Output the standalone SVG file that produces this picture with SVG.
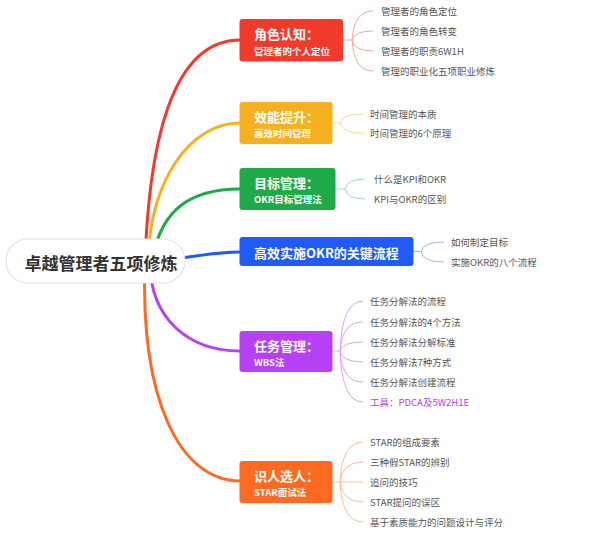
<svg xmlns="http://www.w3.org/2000/svg" width="600" height="533" viewBox="0 0 600 533">
<style>
text{font-family:"Noto Sans CJK SC","Noto Sans",sans-serif;dominant-baseline:central}
.main{fill:none;stroke-width:3;stroke-linecap:round}
.sub{fill:none;stroke-width:1}
.t1{font-size:13px;font-weight:bold;fill:#fff}
.t2{font-size:9.5px;font-weight:bold;fill:#fff}
.c{font-size:9.5px;fill:#555}
</style>
<rect width="600" height="533" fill="#fff"/>
<g id="connectors">
<path class="main" stroke="#F23A2C" d="M145,262 C150,120 180,40 240,40"/>
<path class="main" stroke="#F5B120" d="M148,262 C150,180 190,123 240,123"/>
<path class="main" stroke="#1EAA48" d="M152,262 C160,210 190,189 240,189"/>
<path class="main" stroke="#1F5CF5" d="M150,262 C190,258 210,252 240,252"/>
<path class="main" stroke="#B540F5" d="M150,262 C150,320 190,351 240,351"/>
<path class="main" stroke="#FF6A22" d="M145,262 C140,400 180,481 240,481"/>
<g stroke="#F7A59C" class="sub">
<path d="M343,40 H352 M352,40 Q354,11 373,11 M352,40 Q354,31 373,31 M352,40 Q354,51 373,51 M352,40 Q354,71 373,71"/>
</g>
<g stroke="#FAD99A" class="sub">
<path d="M332,123 H340 M340,123 Q342,114 363,114 M340,123 Q342,133 363,133"/>
</g>
<g stroke="#A3DBB3" class="sub">
<path d="M335,189 H345 M345,189 Q347,179 365,179 M345,189 Q347,199 365,199"/>
</g>
<g stroke="#9DB6F7" class="sub">
<path d="M413,251.5 H421 M421,251.5 Q423,242 444,242 M421,251.5 Q423,262 444,262"/>
</g>
<g stroke="#DDA2FA" class="sub">
<path d="M332,351 H340 M340,351 Q342,301 363,301 M340,351 Q342,322 363,322 M340,351 Q342,342 363,342 M340,351 Q342,362 363,362 M340,351 Q342,382 363,382 M340,351 Q342,402 363,402"/>
</g>
<g stroke="#FFBD99" class="sub">
<path d="M332,482 H340 M340,482 Q342,442 363,442 M340,482 Q342,462 363,462 M340,482 Q342,482 363,482 M340,482 Q342,502 363,502 M340,482 Q342,522 363,522"/>
</g>
</g>
<g id="root">
<rect x="6" y="239" width="179" height="44" rx="22" fill="#fff" stroke="#e3e3e3" stroke-width="1.2"/>
<text x="101" y="262" text-anchor="middle" style="font-size:17px;font-weight:bold;fill:#333">卓越管理者五项修炼</text>
</g>
<g id="n1">
<rect x="239.5" y="19" width="103.5" height="42.5" rx="3" fill="#F23A2C"/>
<text class="t1" x="254" y="33.5">角色认知：</text>
<text class="t2" x="254" y="50.5">管理者的个人定位</text>
</g>
<g id="n1c">
<text class="c" x="381" y="11">管理者的角色定位</text>
<text class="c" x="381" y="31">管理者的角色转变</text>
<text class="c" x="381" y="51">管理者的职责6W1H</text>
<text class="c" x="381" y="71">管理的职业化五项职业修炼</text>
</g>
<g id="n2">
<rect x="239.5" y="102" width="93" height="42" rx="3" fill="#F5B120"/>
<text class="t1" x="254" y="116.5">效能提升：</text>
<text class="t2" x="254" y="132.5">高效时间管理</text>
</g>
<g id="n2c">
<text class="c" x="370" y="114">时间管理的本质</text>
<text class="c" x="370" y="133">时间管理的6个原理</text>
</g>
<g id="n3">
<rect x="239.5" y="168" width="96" height="42" rx="3" fill="#1EAA48"/>
<text class="t1" x="254" y="182.5">目标管理：</text>
<text class="t2" x="254" y="198.5">OKR目标管理法</text>
</g>
<g id="n3c">
<text class="c" x="374" y="179">什么是KPI和OKR</text>
<text class="c" x="374" y="199">KPI与OKR的区别</text>
</g>
<g id="n4">
<rect x="239.5" y="237" width="174" height="29" rx="3" fill="#1F5CF5"/>
<text class="t1" x="254" y="252">高效实施OKR的关键流程</text>
</g>
<g id="n4c">
<text class="c" x="451" y="242">如何制定目标</text>
<text class="c" x="451" y="262">实施OKR的八个流程</text>
</g>
<g id="n5">
<rect x="239.5" y="331" width="93" height="41" rx="3" fill="#B540F5"/>
<text class="t1" x="254" y="345.5">任务管理：</text>
<text class="t2" x="254" y="361.5">WBS法</text>
</g>
<g id="n5c">
<text class="c" x="370" y="301">任务分解法的流程</text>
<text class="c" x="370" y="322">任务分解法的4个方法</text>
<text class="c" x="370" y="342">任务分解法分解标准</text>
<text class="c" x="370" y="362">任务分解法7种方式</text>
<text class="c" x="370" y="382">任务分解法创建流程</text>
<text class="c" x="370" y="402" style="fill:#B540F5">工具：PDCA及5W2H1E</text>
</g>
<g id="n6">
<rect x="239.5" y="461" width="93" height="42" rx="3" fill="#FF6A22"/>
<text class="t1" x="254" y="475.5">识人选人：</text>
<text class="t2" x="254" y="491.5">STAR面试法</text>
</g>
<g id="n6c">
<text class="c" x="370" y="442">STAR的组成要素</text>
<text class="c" x="370" y="462">三种假STAR的辨别</text>
<text class="c" x="370" y="482">追问的技巧</text>
<text class="c" x="370" y="502">STAR提问的误区</text>
<text class="c" x="370" y="522">基于素质能力的问题设计与评分</text>
</g>
</svg>
